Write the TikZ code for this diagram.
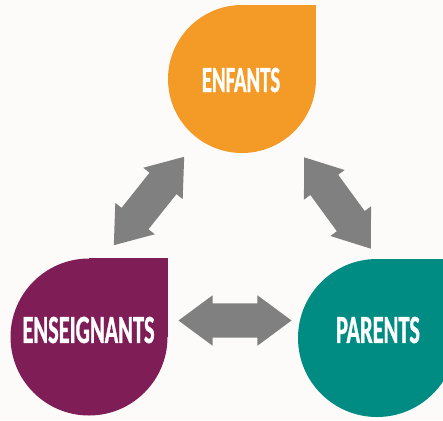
\documentclass[tikz,border=0pt]{standalone}
\usepackage{fontspec}
\newfontfamily\dropfont{Carlito}[FakeStretch=0.56,BoldFeatures={FakeBold=0.8}]
\usetikzlibrary{shapes.arrows,positioning}
\definecolor{enfcol}{HTML}{F39B26}
\definecolor{enscol}{HTML}{7F1D57}
\definecolor{parcol}{HTML}{008C82}
\definecolor{arrgray}{HTML}{808080}
\definecolor{bgcol}{HTML}{FCFBF9}

\begin{document}
\begin{tikzpicture}[x=1pt,y=-1pt,
    drop/.style={circle,inner sep=0pt,minimum size=#1},
    lbl/.style={text=white,inner sep=0pt,font=\dropfont\bfseries\fontsize{#1}{#1}\selectfont},
    dblarr/.style={double arrow,fill=arrgray,inner xsep=0pt,inner ysep=17pt,minimum height=113pt,
        double arrow head extend=8pt,double arrow tip angle=73}
    ]
    \useasboundingbox (0,0) rectangle (443,420);
    \clip (0,0) rectangle (443,420);
    \fill[bgcol] (0,0) rectangle (443,420);

    % the three drops
    \node[drop=148pt,fill=enfcol] (enf) at (242,79) {};
    \fill[enfcol] (enf.center) rectangle (enf.east |- enf.north);
    \node[drop=157pt,fill=enscol] (ens) at (89,337) {};
    \fill[enscol] (ens.center) rectangle (ens.east |- ens.north);
    \node[drop=158pt,fill=parcol] (par) at (377,338) {};
    \fill[parcol] (par.center) rectangle (par.east |- par.north);

    \node[lbl=37] (enflbl) at (241,80) {ENFANTS};
    \node[lbl=40] (enslbl) at (88.5,330) {ENSEIGNANTS};
    \node[lbl=40] (parlbl) at (378,330) {PARENTS};

    % arrows between them
    \node[dblarr,rotate=51.5] (enfens) at (149,201) {};
    \node[dblarr,rotate=-53.9] (enfpar) at (337.5,203) {};
    \node[dblarr] (enspar) at (235,320.5) {};
\end{tikzpicture}
\end{document}
